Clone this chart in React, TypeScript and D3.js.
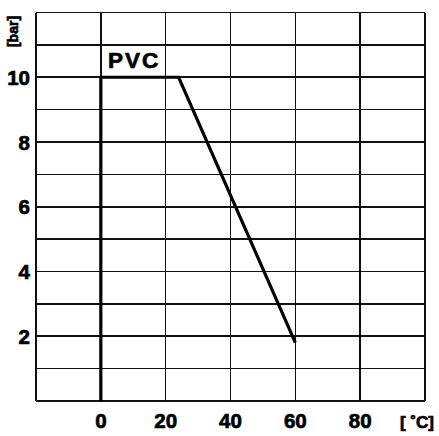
import React from "react";
import * as d3 from "d3";

const temperatures = [0, 0, 24, 60];
const pressures = [0, 10, 10, 1.8];
const xTicks = [0, 20, 40, 60, 80];
const yTicks = [2, 4, 6, 8, 10];
const xGrid = [-20, 0, 20, 40, 60, 80, 100];
const yGrid = d3.range(0, 13, 1);
const seriesLabel = "PVC";
const xUnit = "[ \u02DAC]";
const yUnit = "[bar]";

const W = 439;
const H = 436;
const FONT = "'Liberation Sans', Arial, sans-serif";

export default function App() {
  const x = d3.scaleLinear().domain([-20, 100]).range([36, 425]);
  const y = d3.scaleLinear().domain([0, 12]).range([401, 12.5]);
  const line = d3
    .line<number>()
    .x((_, i) => x(temperatures[i]))
    .y((d) => y(d));
  const path = line(pressures) || "";

  return (
    <svg
      width={W}
      height={H}
      style={{ position: "absolute", left: 0, top: 0, background: "#fff" }}
    >
      <rect width={W} height={H} fill="#fff" />
      <g stroke="#111" strokeWidth={1.6} shapeRendering="crispEdges">
        {xGrid.map((v) => (
          <line key={"vx" + v} x1={x(v)} x2={x(v)} y1={y(0)} y2={y(12)} />
        ))}
        {yGrid.map((v) => (
          <line key={"hy" + v} x1={x(-20)} x2={x(100)} y1={y(v)} y2={y(v)} />
        ))}
      </g>
      <path
        d={path}
        fill="none"
        stroke="#000"
        strokeWidth={3.2}
        strokeLinejoin="miter"
      />
      <g
        fontFamily={FONT}
        fontWeight="bold"
        fill="#000"
        stroke="#000"
        strokeWidth={0.7}
      >
        {yTicks.map((v) => (
          <text
            key={"yt" + v}
            x={30}
            y={y(v)}
            dy="0.37em"
            fontSize={20.5}
            textAnchor="end"
          >
            {v}
          </text>
        ))}
        {xTicks.map((v) => (
          <text
            key={"xt" + v}
            x={x(v)}
            y={428}
            fontSize={20.5}
            textAnchor="middle"
          >
            {v}
          </text>
        ))}
        <text x={400} y={428} fontSize={17}>
          {xUnit}
        </text>
        <text
          transform={`translate(17.5,31.5) rotate(-90)`}
          fontSize={14}
          textAnchor="middle"
        >
          {yUnit}
        </text>
        <text x={108} y={68} fontSize={22.5} letterSpacing={2}>
          {seriesLabel}
        </text>
      </g>
    </svg>
  );
}
